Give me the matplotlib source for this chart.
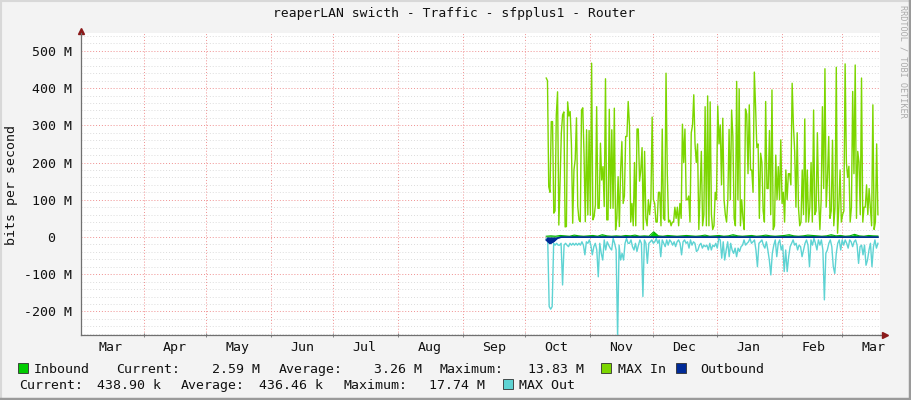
import datetime as dt

import matplotlib
matplotlib.use('Agg')
import matplotlib.pyplot as plt
import matplotlib.dates as mdates
from matplotlib.patches import Rectangle
from matplotlib.lines import Line2D
from matplotlib.transforms import IdentityTransform
import numpy as np

W, H = 911, 400

# values in Mbit/s (Oct 11 -> Mar 18)
max_in = [427, 420, 135, 120, 310, 310, 64, 70, 328, 390, 32, 150, 280, 328, 336, 27, 28, 363, 325, 337,
          247, 37, 180, 209, 320, 82, 46, 41, 341, 347, 220, 41, 288, 59, 286, 59, 467, 46, 55, 86,
          350, 77, 77, 252, 153, 189, 82, 425, 46, 46, 343, 77, 288, 77, 346, 19, 50, 162, 28,
          180, 256, 90, 110, 270, 270, 364, 300, 40, 90, 30, 200, 30, 290, 290, 150, 180, 240, 20, 230,
          50, 30, 100, 60, 100, 322, 100, 90, 40, 40, 120, 120, 30, 290, 50, 45, 440, 170, 40, 45,
          30, 40, 40, 80, 50, 80, 30, 90, 50, 303, 200, 290, 100, 100, 110, 40, 280, 300, 382, 250, 200,
          250, 20, 120, 230, 30, 60, 350, 30, 379, 30, 363, 60, 20, 30, 120, 100, 352, 250, 301, 140,
          319, 100, 60, 40, 100, 289, 100, 341, 270, 50, 30, 418, 100, 398, 30, 100, 50, 20, 344, 330,
          170, 355, 180, 180, 120, 443, 350, 240, 250, 50, 225, 200, 70, 40, 364, 130, 130, 286, 60, 395,
          20, 30, 220, 100, 189, 100, 261, 90, 120, 40, 180, 100, 170,
          170, 140, 413, 300, 230, 80, 280, 80, 30, 40, 180, 60, 317, 40, 180, 40, 80, 200, 40, 341,
          60, 70, 280, 100, 20, 100, 350, 130, 452, 80, 160, 270, 50, 70, 260, 30, 80, 456, 10, 80,
          180, 40, 60, 70, 465, 200, 160, 190, 40, 80, 391, 170, 462, 50, 230, 200, 60, 427, 40, 80,
          80, 140, 60, 130, 80, 30, 355, 20, 40, 250, 60]

max_out = [-4, -8, -187, -194, -187, -17, -22, -17, -22, -22, -17, -129, -22, -17, -22, -26, -17, -22, -17, -22,
           -17, -22, -17, -22, -13, -22, -48, -13, -17, -8, -22, -48, -26, -17, -35, -107, -17, -44, -62, -8,
           -35, -13, -22, -30, -35, -4, -17, -35, -270, -22, -62, -44, -62, -17, -4, -17, -17,
           -8, -26, -35, -17, -39, -22, -8, -17, -160, -8, -17, -71, -17, -13, -8, -17, -13, -4, -17, -8,
           -53, -8, -17, -26, -8, -22, -8, -13, -22, -13, -26, -13, -8, -17, -48, -13, -8, -17, -13, -30,
           -8, -22, -13, -17, -39, -35, -22, -17, -30, -22, -26, -22, -35, -17, -35, -22, -26,
           -17, -30, -4, -8, -57, -13, -62, -35, -13, -53, -17, -35, -44, -30, -53, -30, -39, -26, -22, -8,
           -22, -17, -13, -4, -17, -13, -8, -35, -80, -17, -13, -8, -22, -30, -13, -35, -62, -102, -44, -22,
           -8, -53, -17, -8, -35, -22, -93, -35, -93, -53, -26, -17, -8, -22,
           -17, -35, -22, -26, -53, -35, -17, -8, -22, -80, -8, -22, -4, -17, -35, -8, -22, -8, -35, -169,
           -44, -35, -17, -8, -26, -80, -98, -44, -17, -8, -35, -8, -22, -8, -17, -30, -8, -13, -26, -13,
           -8, -22, -71, -26, -22, -48, -22, -76, -62, -35, -17, -80, -26, -8, -30, -17]

inbound = [2, 3, 2, 4, 3, 2, 5, 3, 2, 3, 4, 2, 6, 3, 2, 3, 2, 4, 3, 5, 2, 3, 2, 13.8, 3,
           2, 4, 3, 2, 3, 4, 3, 2, 3, 5, 2, 3, 4, 2, 3, 6, 3, 2, 3, 4, 2, 3, 5, 3, 2,
           3, 4, 6, 3, 2, 3, 5, 4, 3, 2, 3, 6, 3, 4, 2, 3, 7, 3, 2, 4, 3, 2.6]

outbound = [-8, -17.7, -12, -3, -0.5, -0.4, -0.4, -0.5, -0.4, -0.4, -0.5, -0.4, -0.4, -0.4, -0.5, -0.4,
            -0.4, -0.5, -0.4, -0.4, -0.4, -0.5, -0.4, -0.4, -0.4, -0.5, -0.4, -0.4, -0.4, -0.5,
            -0.4, -0.4, -0.5, -0.4, -0.4, -0.4, -0.5, -0.4, -0.4, -0.4, -0.5, -0.4, -0.4, -0.4, -0.5,
            -0.4, -0.4, -0.5, -0.4, -0.4, -0.4, -0.5, -0.4, -0.4, -0.4, -0.5, -0.4, -0.4, -0.4, -0.5,
            -0.4, -0.4, -0.5, -0.4, -0.4, -0.4, -0.5, -0.4, -0.4, -0.4, -0.5, -0.4, -0.4, -0.4, -0.5,
            -0.4, -0.4, -0.5, -0.4, -0.4, -0.4, -0.5, -0.4, -0.4, -0.4, -0.5, -0.4, -0.4, -0.44]

months = ['Mar', 'Apr', 'May', 'Jun', 'Jul', 'Aug', 'Sep', 'Oct', 'Nov', 'Dec', 'Jan', 'Feb', 'Mar']
y_ticks = [-200, -100, 0, 100, 200, 300, 400, 500]
y_labels = ['-200 M', '-100 M', '0  ', '100 M', '200 M', '300 M', '400 M', '500 M']

title = 'reaperLAN swicth - Traffic - sfpplus1 - Router'

t0 = dt.datetime(2023, 3, 2)
t1 = dt.datetime(2024, 3, 19)
d0 = dt.datetime(2023, 10, 11)
d1 = dt.datetime(2024, 3, 18)

C_IN = '#00CC00'
C_MAXIN = '#7CD600'
C_OUT = '#002A97'
C_MAXOUT = '#5ED3D3'
MONO = 'DejaVu Sans Mono'

plt.rcParams['font.family'] = MONO


def times(n):
    return np.linspace(mdates.date2num(d0), mdates.date2num(d1), n)


def fx(x):
    return x / W


def fy(y):
    return 1 - y / H


fig = plt.figure(figsize=(W / 100, H / 100), dpi=100, facecolor='#F3F3F3')
ax = fig.add_axes([fx(81), fy(335), (880 - 81) / W, (335 - 33) / H])
ax.set_facecolor('white')

# series
ax.plot(times(len(max_in)), max_in, color=C_MAXIN, lw=1.0, zorder=3)
ax.fill_between(times(len(inbound)), 0, inbound, color=C_IN, lw=0, zorder=4)
ax.plot(times(len(inbound)), inbound, color='#00B000', lw=0.8, zorder=4)
ax.plot(times(len(max_out)), max_out, color=C_MAXOUT, lw=1.0, zorder=3)
ax.fill_between(times(len(outbound)), 0, outbound, color=C_OUT, lw=0, zorder=5)
ax.plot(times(len(outbound)), outbound, color=C_OUT, lw=1.2, zorder=5)

ax.set_xlim(t0, t1)
ax.set_ylim(-263.4, 548)

# grid
ax.set_yticks(y_ticks)
ax.set_yticklabels(y_labels)
ax.set_yticks(np.arange(-260, 541, 20), minor=True)
ax.xaxis.set_major_locator(mdates.MonthLocator(bymonthday=16))
ax.xaxis.set_major_formatter(mdates.DateFormatter('%b'))
ax.xaxis.set_minor_locator(mdates.MonthLocator())
ax.grid(which='minor', axis='y', color='#DCDCDC', lw=0.7, ls=(0, (1, 2)), zorder=1)
ax.grid(which='major', axis='y', color='#F09090', lw=0.7, ls=(0, (1, 2)), zorder=2)
ax.grid(which='minor', axis='x', color='#F09090', lw=0.7, ls=(0, (1, 2)), zorder=2)
ax.set_axisbelow(True)

for s in ['top', 'right']:
    ax.spines[s].set_visible(False)
for s in ['left', 'bottom']:
    ax.spines[s].set_color('#707070')
    ax.spines[s].set_linewidth(0.9)

ax.tick_params(axis='y', which='major', length=0, labelsize=9.5, pad=6.5, labelcolor='#111111')
ax.tick_params(axis='y', which='minor', length=0)
ax.tick_params(axis='x', which='major', length=0, labelsize=9.5, pad=4.4, labelcolor='#111111')
ax.tick_params(axis='x', which='minor', length=3, direction='inout', color='#707070')

# axis arrows
ax.plot([1.0, 1.006], [0, 0], color='#707070', lw=0.9, transform=ax.transAxes, clip_on=False)
ax.plot([1.006], [0], marker='>', markersize=5, color='#8B1A1A', transform=ax.transAxes, clip_on=False)
ax.plot([0], [1.008], marker='^', markersize=5, color='#8B1A1A', transform=ax.transAxes, clip_on=False)

# texts
fig.text(fx(454.5), fy(14), title, ha='center', va='center', fontsize=9.4, color='#111111')
fig.text(fx(12), fy(185), 'bits per second', rotation=90, ha='center', va='center',
         fontsize=9.5, color='#111111')
fig.text(fx(903), fy(61), 'RRDTOOL / TOBI OETIKER', rotation=270, ha='center', va='center',
         fontsize=6.1, color='#AAAAAA')


# legend
def swatch(x, y, color):
    fig.add_artist(Rectangle((fx(x), fy(y + 5)), 10 / W, 10 / H, facecolor=color,
                             edgecolor='#303030', lw=0.6, transform=fig.transFigure))


def label(x, y, s, ha='left'):
    # whole display pixels so every piece of a row shares one baseline
    fig.text(round(x), H - y, s, ha=ha, va='baseline', fontsize=9.5, color='#111111',
             transform=IdentityTransform())


r1, r2 = 373, 389
swatch(17.5, 368, C_IN)
label(33.7, r1, 'Inbound')
label(116, r1, 'Current:')
label(260, r1, '2.59 M', 'right')
label(279, r1, 'Average:')
label(422, r1, '3.26 M', 'right')
label(440, r1, 'Maximum:')
label(584, r1, '13.83 M', 'right')
swatch(601, 368, C_MAXIN)
label(618, r1, 'MAX In')
swatch(676, 368, C_OUT)
label(700, r1, 'Outbound')

label(18.6, r2, 'Current:')
label(161, r2, '438.90 k', 'right')
label(181, r2, 'Average:')
label(323, r2, '436.46 k', 'right')
label(343, r2, 'Maximum:')
label(485, r2, '17.74 M', 'right')
swatch(503, 384, C_MAXOUT)
label(519, r2, 'MAX Out')

# frame shading
fig.add_artist(Line2D([fx(1), fx(1)], [0, 1], color='#D8D8D8', lw=1.5, transform=fig.transFigure))
fig.add_artist(Line2D([0, 1], [fy(1), fy(1)], color='#D8D8D8', lw=1.5, transform=fig.transFigure))
fig.add_artist(Line2D([fx(909.5), fx(909.5)], [0, 1], color='#9A9A9A', lw=2.5, transform=fig.transFigure))
fig.add_artist(Line2D([0, 1], [fy(398.5), fy(398.5)], color='#9A9A9A', lw=2.5, transform=fig.transFigure))

fig.savefig('out.png', dpi=100, facecolor=fig.get_facecolor())
